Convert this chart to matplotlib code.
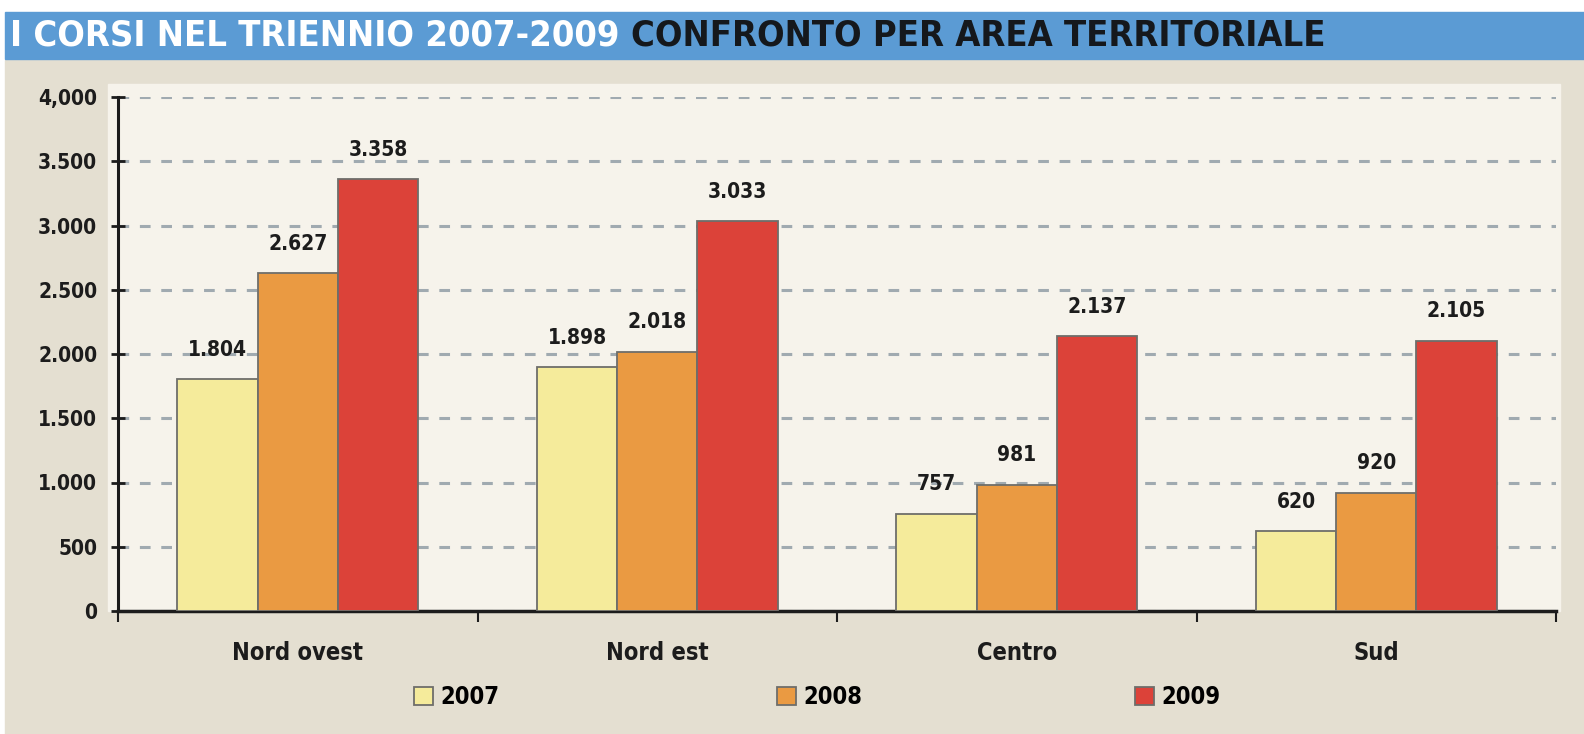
import matplotlib
matplotlib.use("Agg")
import matplotlib.pyplot as plt
import numpy as np
from matplotlib.patches import Rectangle

areas = ["Nord ovest", "Nord est", "Centro", "Sud"]
years = ["2007", "2008", "2009"]
v2007 = [1804, 1898, 757, 620]
v2008 = [2627, 2018, 981, 920]
v2009 = [3358, 3033, 2137, 2105]
yticks = [0, 500, 1000, 1500, 2000, 2500, 3000, 3500, 4000]
ytick_labels = ["0", "500", "1.000", "1.500", "2.000", "2.500", "3.000", "3.500", "4,000"]

colors = ["#f5eb9b", "#ea9a42", "#dc4239"]
edge = "#6e6e6a"
bg = "#e4dfd1"
panel = "#f6f3eb"
bar_blue = "#5b9bd4"
ink = "#1c1c1c"

plt.rcParams["font.family"] = ["DejaVu Sans"]
plt.rcParams["font.stretch"] = "condensed"

W, H = 1584, 734
fig = plt.figure(figsize=(W / 100, H / 100), dpi=100, facecolor="white")


def fr(x0, y0, x1, y1):
    return (x0 / W, 1 - y1 / H), (x1 - x0) / W, (y1 - y0) / H


xy, w, h = fr(5, 60, W, H)
fig.patches.append(Rectangle(xy, w, h, transform=fig.transFigure, color=bg, zorder=-3))
xy, w, h = fr(5, 12, W, 59)
fig.patches.append(Rectangle(xy, w, h, transform=fig.transFigure, color=bar_blue, zorder=-3))
xy, w, h = fr(108, 84, 1560, 611)
fig.patches.append(Rectangle(xy, w, h, transform=fig.transFigure, color=panel, zorder=-2))

t1 = fig.text(10 / W, 1 - 36 / H, "I CORSI NEL TRIENNIO 2007-2009 ", color="white",
              fontsize=26, fontweight="bold", va="center", ha="left")
fig.canvas.draw()
bb = t1.get_window_extent()
fig.text(bb.x1 / W, 1 - 36 / H, "CONFRONTO PER AREA TERRITORIALE", color="#15181c",
         fontsize=26, fontweight="bold", va="center", ha="left")

left, right, bottom, top = 118, 1556, 611, 97
ax = fig.add_axes([left / W, 1 - bottom / H, (right - left) / W, (bottom - top) / H])
ax.set_facecolor("none")
ax.set_zorder(2)

x = np.arange(len(areas))
bw = 0.223
for i, (vals, c) in enumerate(zip([v2007, v2008, v2009], colors)):
    pos = x + (i - 1) * bw
    ax.bar(pos, vals, width=bw, color=c, edgecolor=edge, linewidth=1.3, zorder=3, label=years[i])
    for p, v in zip(pos, vals):
        ax.annotate(f"{v / 1000:.3f}" if v >= 1000 else str(v), (p, v), xytext=(0, 14),
                    textcoords="offset points", ha="center", va="bottom",
                    fontsize=15, fontweight="bold", color=ink, zorder=4)

ax.set_xlim(-0.5, 3.5)
ax.set_ylim(0, 4000)
ax.set_yticks(yticks)
ax.set_yticklabels(ytick_labels)
ax.set_xticks(np.arange(-0.5, 4, 1))
ax.set_xticklabels([])
ax.tick_params(axis="y", direction="inout", length=10, width=2, color=ink,
               labelsize=15, labelcolor=ink, pad=10)
ax.tick_params(axis="x", direction="out", length=8, width=1.5, color=ink)
for lab in ax.get_yticklabels():
    lab.set_fontweight("bold")
for i, a in enumerate(areas):
    ax.text(i, -330, a, ha="center", va="center", fontsize=17, fontweight="bold", color=ink)

ax.yaxis.grid(True, linestyle=(0, (3.5, 3.5)), color="#a0aab0", linewidth=2.2, zorder=1)
ax.set_axisbelow(True)
for s in ["top", "right"]:
    ax.spines[s].set_visible(False)
ax.spines["left"].set_linewidth(2.2)
ax.spines["left"].set_color(ink)
ax.spines["bottom"].set_linewidth(2.5)
ax.spines["bottom"].set_color(ink)

handles, labels = ax.get_legend_handles_labels()
for hnd, lab, lx in zip(handles, labels, [414, 777, 1135]):
    fig.legend([hnd], [lab], loc="center left", bbox_to_anchor=(lx / W, 1 - 697 / H),
               frameon=False, handlelength=0.8, handleheight=0.8,
               handletextpad=0.3, borderaxespad=0, borderpad=0,
               prop={"weight": "bold", "size": 17, "stretch": "condensed"})

fig.savefig("out.png", dpi=100, facecolor=fig.get_facecolor())
